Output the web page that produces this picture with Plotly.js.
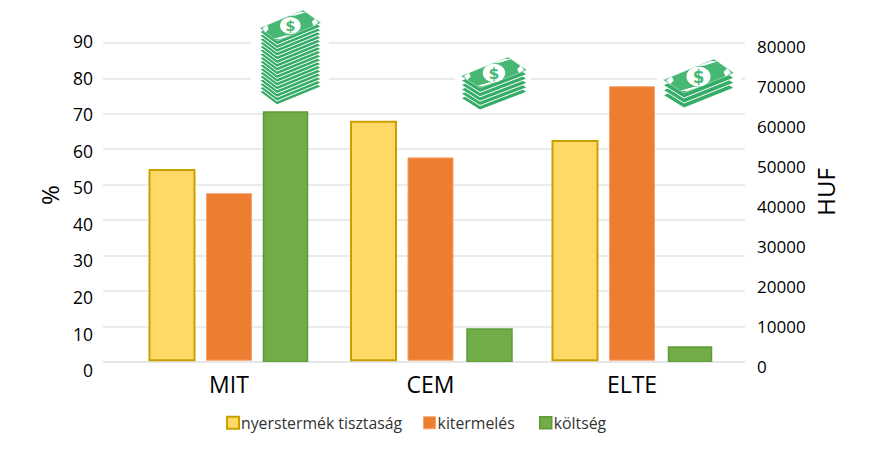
<!DOCTYPE html>
<html><head><meta charset="utf-8">
<script src="https://cdn.plot.ly/plotly-3.0.1.min.js"></script>
<style>html,body{margin:0;padding:0;background:#fff}</style></head>
<body><div id="chart" style="width:884px;height:454px"></div>
<script>
const categories = ['MIT','CEM','ELTE'];
const seriesNames = ['nyerstermék tisztaság','kitermelés','költség'];
const tisztasag = [54.2,67.8,62.4];
const kitermeles = [47.5,57.6,77.7];
const koltseg = [62500,8250,3750];
const percentTicks = [0,10,20,30,40,50,60,70,80,90];
const hufTicks = [0,10000,20000,30000,40000,50000,60000,70000,80000];

const W=884,H=454,L=103,R=745,T=8,B=376;
const px=p=>(p-L)/(R-L), py=p=>(B-p)/(B-T);
const FONT='"Open Sans", sans-serif';

function money(box,top,layers,step){
  const [x0,y0,x1,y1]=box;
  const pts=(d)=>top.map(p=>(p[0]-x0)+','+(p[1]-y0+d)).join(' ');
  const [Lf,Tp,Rt,Bt]=top;
  const lerp=(a,b,t)=>[a[0]+(b[0]-a[0])*t,a[1]+(b[1]-a[1])*t];
  const rel=p=>(p[0]-x0)+','+(p[1]-y0);
  let s=`<svg xmlns="http://www.w3.org/2000/svg" width="${(x1-x0)*3}" height="${(y1-y0)*3}" viewBox="0 0 ${x1-x0} ${y1-y0}"><rect width="100%" height="100%" fill="#fff"/>`;
  for(let i=layers;i>=1;i--){
    s+=`<polygon points="${pts(i*step)}" fill="#35ad68" stroke="#fff" stroke-width="1"/>`;
  }
  s+=`<polygon points="${pts(0)}" fill="#46b873" stroke="#fff" stroke-width="0.4"/>`;
  const corners=[[Lf,Tp,Bt],[Tp,Rt,Lf],[Rt,Bt,Tp],[Bt,Lf,Rt]];
  corners.forEach(c=>{
    const a=lerp(c[0],c[1],0.17),b=lerp(c[0],c[2],0.34);
    const e=lerp(a,b,0.5);
    const m=lerp(c[0],e,0.4);
    const f=lerp(c[0],e,1.35);
    s+=`<polygon points="${rel(m)} ${rel(a)} ${rel(f)} ${rel(b)}" fill="#fff"/>`;
  });
  const cx=(Lf[0]+Rt[0])/2-x0, cy=(Lf[1]+Rt[1])/2-y0;
  const rx=Math.abs(Rt[0]-Lf[0])*0.17, ry=rx*0.82;
  s+=`<ellipse cx="${cx}" cy="${cy}" rx="${rx}" ry="${ry}" fill="#fff"/>`;
  s+=`<text x="${cx}" y="${cy+ry*0.62}" font-family="DejaVu Sans" font-weight="bold" font-size="${ry*1.7}" text-anchor="middle" fill="#46b873">$</text></svg>`;
  return {source:'data:image/svg+xml;charset=utf-8,'+encodeURIComponent(s),xref:'paper',yref:'paper',
    x:px(x0),y:py(y0),sizex:(x1-x0)/(R-L),sizey:(y1-y0)/(B-T),xanchor:'left',yanchor:'top',sizing:'stretch',layer:'above'};
}
const images=[
  money([251,4,329,109],[[259.7,28],[303,10],[321,23],[277,41]],17,3.75),
  money([455,50,531,112],[[461,76],[508,57],[527,70],[480,88]],5,4.4),
  money([657,54,741,111],[[663,80],[714,59],[734,73],[684,93]],3,5)
];

const U=201.5, barW=45/U;
const t1={type:'bar',name:seriesNames[0],x:categories,y:tisztasag.map(v=>v-0.5),base:0.5,xaxis:'x',yaxis:'y',
  width:barW,offset:-57/U-barW/2,marker:{color:'#FFD966',line:{color:'#C9A000',width:2}}};
const t2={type:'bar',name:seriesNames[1],x:categories,y:kitermeles.map(v=>v-0.5),base:0.5,xaxis:'x',yaxis:'y',
  width:barW,offset:-barW/2,marker:{color:'#ED7D31',line:{color:'#F4A46E',width:1}}};
const t3={type:'bar',name:seriesNames[2],x:categories,y:koltseg,xaxis:'x',yaxis:'y2',
  width:[44/U,45/U,43/U],offset:[34.5/U,36.5/U,36.5/U],marker:{color:'#70AD47',line:{color:'#5E9A3A',width:1.5}}};
const labelAxis={type:'scatter',x:[null],y:[null],xaxis:'x',yaxis:'y3',showlegend:false,hoverinfo:'skip'};

const layout={
  width:W,height:H,paper_bgcolor:'#fff',plot_bgcolor:'rgba(0,0,0,0)',showlegend:true,barmode:'overlay',
  margin:{l:L,r:W-R,t:T,b:H-B,pad:0,autoexpand:false},
  font:{family:FONT,color:'#111'},
  xaxis:{type:'category',range:[-126/U,516/U],anchor:'y',showgrid:false,showline:false,zeroline:false,ticks:'',
    tickfont:{size:23,color:'#000'},ticklabelstandoff:7},
  yaxis:{domain:[py(362),1],range:[0,99.9],dtick:10,showgrid:true,gridcolor:'#ebebeb',gridwidth:2,
    zeroline:true,zerolinecolor:'#e6e6e6',zerolinewidth:2,showticklabels:false,ticks:''},
  yaxis2:{domain:[py(362),py(22)],range:[0,85000],anchor:'x',side:'right',showgrid:false,zeroline:false,
    tickvals:hufTicks,ticktext:hufTicks.map(String),tickfont:{size:17,color:'#000'},ticks:'',ticklabelshift:5,ticklabelstandoff:11,
    title:{text:'HUF',font:{size:24,color:'#000'},standoff:13}},
  yaxis3:{domain:[py(371),py(19)],range:[0,96.3],anchor:'x',side:'left',showgrid:false,zeroline:false,
    tickvals:percentTicks,ticktext:percentTicks.map(String),tickfont:{size:17.5,color:'#000'},ticks:'',ticklabelstandoff:9,
    title:{text:'%',font:{size:24,color:'#000'},standoff:6}},
  legend:{orientation:'h',x:px(201),xanchor:'left',y:py(423),yanchor:'middle',font:{size:15.8,color:'#333'},
    traceorder:'normal',bgcolor:'rgba(0,0,0,0)'},
  images:images
};
Plotly.newPlot('chart',[t1,t2,t3,labelAxis],layout,{displayModeBar:false,staticPlot:true}).then(()=>{
  document.querySelectorAll('#chart .legend .legendsymbols').forEach(n=>n.setAttribute('transform','translate(12,0)'));
  const dx=[0,-10,-16];
  document.querySelectorAll('#chart .legend .traces').forEach((n,i)=>{
    const m=/translate\(([-\d.]+),\s*([-\d.]+)\)/.exec(n.getAttribute('transform')||'');
    if(m) n.setAttribute('transform',`translate(${+m[1]+dx[i]},${m[2]})`);
  });
});
</script></body></html>
